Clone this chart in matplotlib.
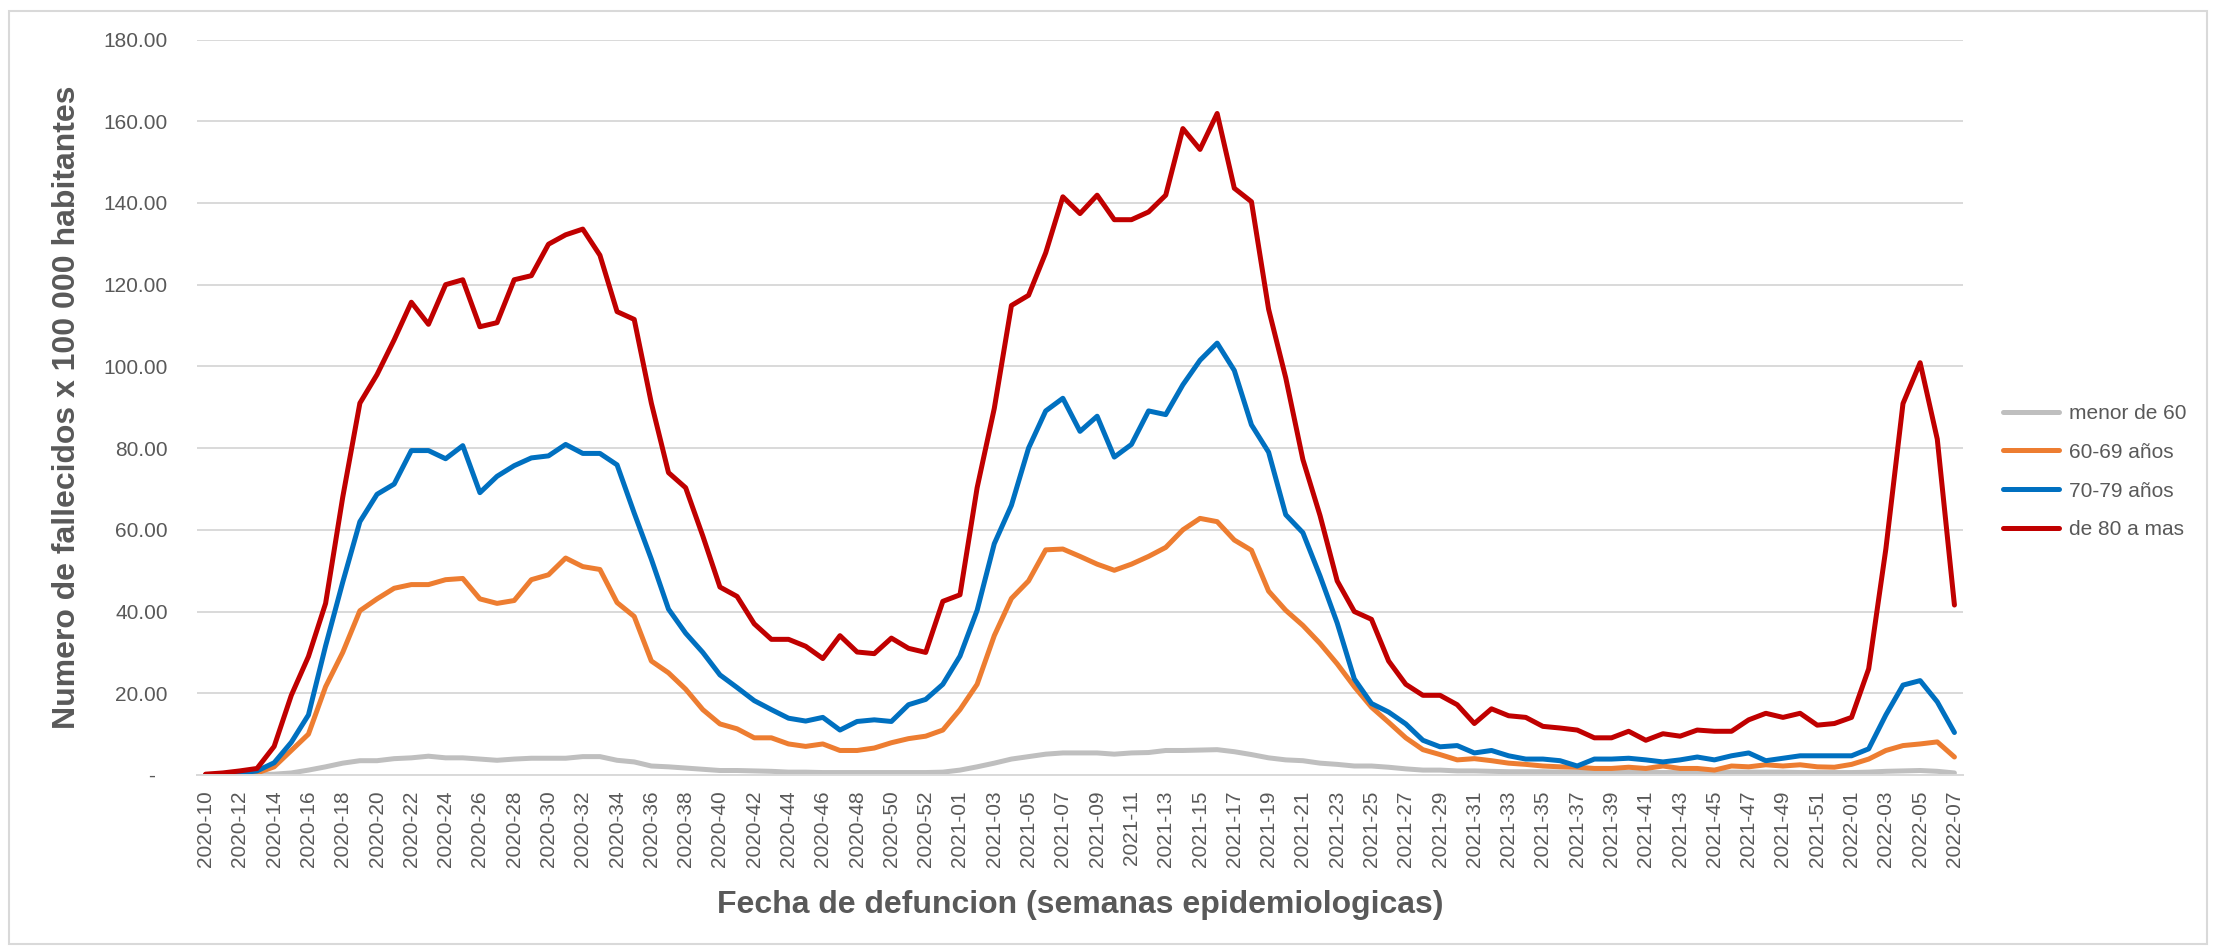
import matplotlib
matplotlib.use('Agg')
import matplotlib.pyplot as plt
from matplotlib.patches import Rectangle

plt.rcParams['font.family'] = ['Liberation Sans', 'DejaVu Sans']

# --- semanas epidemiologicas (2020-10 .. 2022-07) ---
weeks = ([f"2020-{w:02d}" for w in range(10, 54)]
         + [f"2021-{w:02d}" for w in range(1, 53)]
         + [f"2022-{w:02d}" for w in range(1, 8)])

# --- tasas por 100 000 habitantes ---
menor_60 = [0, 0, 0.1, 0.1, 0.2, 0.5, 1.2, 2.0, 2.9, 3.5,
            3.5, 4.0, 4.2, 4.6, 4.2, 4.2, 3.9, 3.6, 3.9, 4.1,
            4.1, 4.1, 4.5, 4.5, 3.6, 3.2, 2.2, 2.0, 1.7, 1.4,
            1.1, 1.1, 1.0, 0.9, 0.7, 0.7, 0.6, 0.6, 0.6, 0.6,
            0.6, 0.6, 0.6, 0.7, 1.2, 2.0, 2.9, 3.9, 4.5, 5.1,
            5.4, 5.4, 5.4, 5.1, 5.4, 5.5, 6.0, 6.0, 6.1, 6.2,
            5.7, 5.0, 4.2, 3.7, 3.5, 2.9, 2.6, 2.2, 2.2, 1.9,
            1.5, 1.2, 1.2, 1.0, 1.0, 0.9, 0.8, 0.8, 0.8, 0.7,
            0.7, 0.7, 0.7, 0.7, 0.6, 0.6, 0.6, 0.7, 0.7, 0.7,
            0.7, 0.7, 0.7, 0.6, 0.6, 0.6, 0.6, 0.7, 0.9, 1.0,
            1.1, 0.9, 0.5]

a60_69 = [0, 0.1, 0.3, 0.5, 2.0, 6.0, 10.0, 21.6, 30.0, 40.2,
          43.1, 45.7, 46.6, 46.6, 47.8, 48.1, 43.1, 42.0, 42.7, 47.8,
          49.0, 53.1, 51.0, 50.3, 42.2, 38.8, 27.9, 25.0, 21.0, 16.0,
          12.5, 11.3, 9.1, 9.1, 7.6, 7.0, 7.6, 6.0, 6.0, 6.6,
          7.9, 8.9, 9.5, 11.0, 16.0, 22.2, 34.1, 43.2, 47.5, 55.1,
          55.3, 53.5, 51.6, 50.1, 51.6, 53.5, 55.7, 60.0, 62.8, 62.0,
          57.5, 55.0, 45.0, 40.3, 36.6, 32.2, 27.2, 21.6, 16.6, 12.9,
          9.1, 6.2, 5.0, 3.7, 4.0, 3.5, 2.9, 2.6, 2.2, 2.0,
          1.9, 1.6, 1.6, 1.9, 1.6, 2.2, 1.6, 1.6, 1.2, 2.2,
          2.0, 2.5, 2.2, 2.5, 2.0, 1.9, 2.6, 3.9, 6.0, 7.2,
          7.6, 8.1, 4.4]

a70_79 = [0, 0.2, 0.5, 1.0, 3.0, 8.0, 14.7, 31.6, 47.2, 62.0,
          68.7, 71.2, 79.4, 79.4, 77.4, 80.6, 69.1, 73.1, 75.7, 77.6,
          78.1, 80.9, 78.7, 78.7, 75.9, 64.1, 52.8, 40.6, 34.7, 30.0,
          24.5, 21.4, 18.2, 16.0, 13.9, 13.2, 14.1, 11.0, 13.1, 13.5,
          13.1, 17.2, 18.5, 22.2, 29.1, 40.3, 56.6, 66.0, 80.0, 89.1,
          92.2, 84.1, 87.8, 77.8, 80.9, 89.1, 88.2, 95.5, 101.5, 105.7,
          99.0, 85.7, 79.0, 63.7, 59.3, 48.7, 37.2, 23.5, 17.5, 15.4,
          12.5, 8.5, 6.9, 7.2, 5.4, 6.0, 4.7, 3.9, 3.9, 3.5,
          2.2, 3.9, 3.9, 4.1, 3.7, 3.2, 3.7, 4.4, 3.7, 4.7,
          5.4, 3.5, 4.1, 4.7, 4.7, 4.7, 4.7, 6.4, 14.7, 22.0,
          23.1, 17.9, 10.4]

de_80 = [0.2, 0.5, 1.0, 1.6, 7.0, 19.5, 29.0, 42.0, 68.0, 91.0,
         98.0, 106.5, 115.7, 110.3, 120.0, 121.2, 109.7, 110.7, 121.2, 122.2,
         129.9, 132.2, 133.6, 127.2, 113.4, 111.5, 91.0, 74.0, 70.3, 58.5,
         46.0, 43.7, 37.0, 33.2, 33.2, 31.5, 28.5, 34.1, 30.1, 29.7,
         33.5, 31.0, 30.0, 42.5, 44.1, 70.3, 89.7, 114.9, 117.4, 127.8,
         141.5, 137.4, 141.9, 135.9, 135.9, 137.8, 141.9, 158.2, 153.1, 161.9,
         143.6, 140.3, 114.0, 97.2, 77.2, 63.5, 47.5, 40.0, 38.1, 27.9,
         22.2, 19.5, 19.5, 17.2, 12.6, 16.2, 14.5, 14.1, 11.9, 11.5,
         11.0, 9.1, 9.1, 10.7, 8.5, 10.1, 9.5, 11.0, 10.7, 10.7,
         13.5, 15.1, 14.1, 15.1, 12.2, 12.6, 14.1, 26.0, 55.3, 90.9,
         100.9, 82.2, 41.6]

series = [
    ("menor de 60", menor_60, "#BFBFBF"),
    ("60-69 años", a60_69, "#ED7D31"),
    ("70-79 años", a70_79, "#0070C0"),
    ("de 80 a mas", de_80, "#C00000"),
]

TXT = "#595959"
GRID = "#D9D9D9"

W, H = 2216, 952
fig = plt.figure(figsize=(W / 100, H / 100), dpi=100)
ax = fig.add_axes([197 / W, 1 - 775 / H, (1963 - 197) / W, (775 - 39.5) / H])

x = list(range(len(weeks)))
for name, vals, col in series:
    ax.plot(x, vals, color=col, lw=3.6, label=name,
            solid_joinstyle='round', solid_capstyle='round')

ax.set_xlim(-0.5, len(weeks) - 0.5)
ax.set_ylim(0, 180)

yt = list(range(0, 181, 20))
ax.set_yticks(yt)
ax.set_yticklabels(['-  ' if v == 0 else f"{v:.2f}" for v in yt])
ax.set_xticks(x[::2])
ax.set_xticklabels(weeks[::2], rotation=90)

ax.tick_params(axis='y', length=0, pad=21, labelsize=15, labelcolor=TXT)
ax.tick_params(axis='x', length=0, pad=11, labelsize=15, labelcolor=TXT)

ax.yaxis.grid(True, color=GRID, lw=1.4)
ax.set_axisbelow(True)
for s in ['top', 'right', 'left']:
    ax.spines[s].set_visible(False)
ax.spines['bottom'].set_color(GRID)
ax.spines['bottom'].set_linewidth(1.4)

fig.text(67 / W, 1 - 407 / H, "Numero de fallecidos x 100 000 habitantes",
         rotation=90, ha='center', va='center', fontsize=23,
         fontweight='bold', color=TXT)
fig.text(1080 / W, 1 - 913 / H, "Fecha de defuncion (semanas epidemiologicas)",
         ha='center', va='baseline', fontsize=23, fontweight='bold', color=TXT)

leg = ax.legend(loc='upper left', bbox_to_anchor=(2003 / W, 1 - 404 / H),
                bbox_transform=fig.transFigure, frameon=False, fontsize=15,
                handlelength=2.7, handletextpad=0.45, labelspacing=0.95,
                borderpad=0, borderaxespad=0)
for t in leg.get_texts():
    t.set_color(TXT)
for l in leg.get_lines():
    l.set_linewidth(3.6)

# marco gris del grafico
fig.patches.append(Rectangle((9 / W, 8 / H), (W - 18) / W, (H - 19) / H,
                             transform=fig.transFigure, fill=False,
                             edgecolor=GRID, lw=1.5))

fig.savefig("out.png", dpi=100)
